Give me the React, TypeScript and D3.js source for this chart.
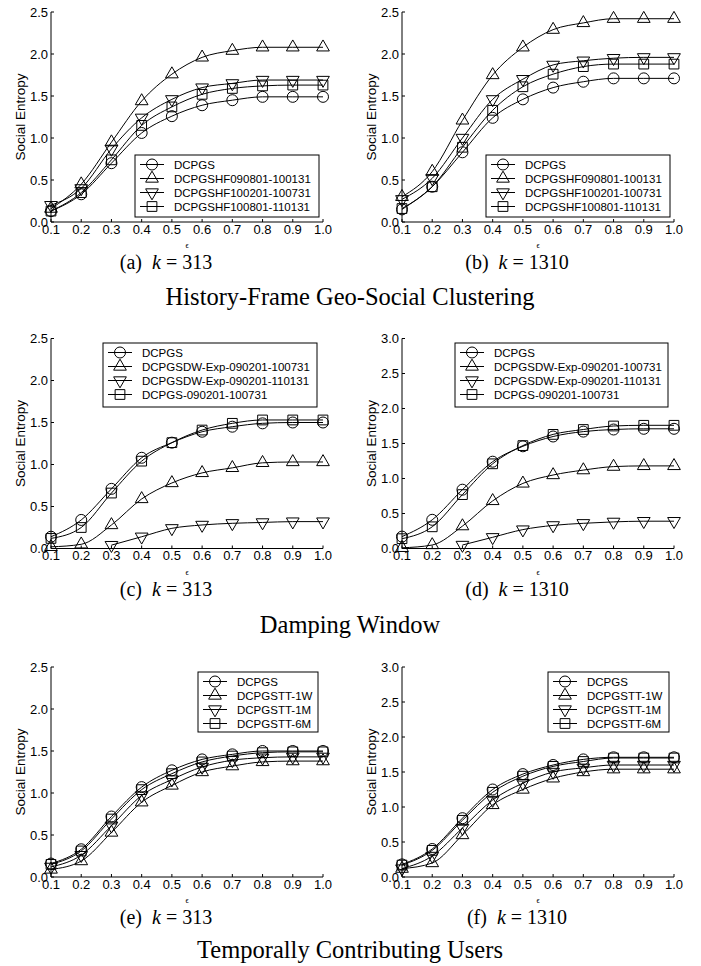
import * as d3 from 'd3';

const eps = [0.1, 0.2, 0.3, 0.4, 0.5, 0.6, 0.7, 0.8, 0.9, 1.0];
const yTicks25 = [0, 0.5, 1.0, 1.5, 2.0, 2.5];
const yTicks30 = [0, 0.5, 1.0, 1.5, 2.0, 2.5, 3.0];

const hfNames = ['DCPGS', 'DCPGSHF090801-100131', 'DCPGSHF100201-100731', 'DCPGSHF100801-110131'];
const dwNames = ['DCPGS', 'DCPGSDW-Exp-090201-100731', 'DCPGSDW-Exp-090201-110131', 'DCPGS-090201-100731'];
const ttNames = ['DCPGS', 'DCPGSTT-1W', 'DCPGSTT-1M', 'DCPGSTT-6M'];

// (a) history frame, k = 313
const aDCPGS = [0.13, 0.33, 0.70, 1.06, 1.26, 1.39, 1.45, 1.49, 1.49, 1.49];
const aHF0908 = [0.16, 0.45, 0.95, 1.44, 1.76, 1.96, 2.04, 2.08, 2.08, 2.08];
const aHF1002 = [0.20, 0.40, 0.87, 1.24, 1.46, 1.60, 1.65, 1.69, 1.69, 1.69];
const aHF1008 = [0.13, 0.35, 0.74, 1.15, 1.37, 1.52, 1.59, 1.62, 1.63, 1.63];

// (b) history frame, k = 1310
const bDCPGS = [0.15, 0.42, 0.83, 1.24, 1.46, 1.60, 1.67, 1.71, 1.71, 1.71];
const bHF0908 = [0.30, 0.60, 1.21, 1.75, 2.08, 2.29, 2.37, 2.42, 2.42, 2.42];
const bHF1002 = [0.27, 0.52, 1.00, 1.46, 1.70, 1.87, 1.92, 1.95, 1.96, 1.96];
const bHF1008 = [0.16, 0.42, 0.89, 1.33, 1.61, 1.76, 1.85, 1.88, 1.88, 1.88];

// (c) damping window, k = 313
const cDCPGS = [0.14, 0.34, 0.71, 1.08, 1.26, 1.39, 1.45, 1.49, 1.50, 1.50];
const cDW1007 = [0.02, 0.05, 0.28, 0.59, 0.78, 0.90, 0.96, 1.02, 1.03, 1.03];
const cDW1101 = [null, null, 0.04, 0.14, 0.24, 0.28, 0.30, 0.31, 0.32, 0.32];
const cGS1007 = [0.12, 0.25, 0.66, 1.04, 1.26, 1.41, 1.49, 1.53, 1.53, 1.53];

// (d) damping window, k = 1310
const dDCPGS = [0.17, 0.41, 0.84, 1.24, 1.46, 1.60, 1.67, 1.70, 1.71, 1.71];
const dDW1007 = [0.01, 0.05, 0.32, 0.68, 0.93, 1.05, 1.12, 1.17, 1.18, 1.18];
const dDW1101 = [null, null, 0.05, 0.16, 0.27, 0.33, 0.36, 0.38, 0.39, 0.39];
const dGS1007 = [0.14, 0.31, 0.77, 1.21, 1.47, 1.63, 1.70, 1.75, 1.76, 1.76];

// (e) temporal contributors, k = 313
const eDCPGS = [0.16, 0.33, 0.72, 1.07, 1.27, 1.40, 1.46, 1.50, 1.50, 1.50];
const eTT1W = [0.09, 0.19, 0.53, 0.89, 1.09, 1.25, 1.32, 1.37, 1.38, 1.38];
const eTT1M = [0.12, 0.26, 0.61, 0.97, 1.16, 1.31, 1.39, 1.42, 1.43, 1.43];
const eTT6M = [0.15, 0.31, 0.69, 1.04, 1.23, 1.37, 1.44, 1.48, 1.49, 1.49];

// (f) temporal contributors, k = 1310
const fDCPGS = [0.18, 0.40, 0.84, 1.25, 1.47, 1.60, 1.68, 1.71, 1.71, 1.71];
const fTT1W = [0.12, 0.20, 0.60, 1.03, 1.25, 1.41, 1.50, 1.54, 1.54, 1.54];
const fTT1M = [0.12, 0.30, 0.70, 1.10, 1.34, 1.50, 1.56, 1.60, 1.60, 1.60];
const fTT6M = [0.17, 0.38, 0.81, 1.21, 1.44, 1.58, 1.65, 1.70, 1.70, 1.70];

const sections = [
  { title: 'History-Frame Geo-Social Clustering', y: 305 },
  { title: 'Damping Window', y: 633 },
  { title: 'Temporally Contributing Users', y: 958 },
];

const panels = [
  { tag: '(a)', k: '313', col: 0, row: 0, ticks: yTicks25, names: hfNames, series: [aDCPGS, aHF0908, aHF1002, aHF1008], legend: { x: 135, y: 155, w: 184, h: 62 } },
  { tag: '(b)', k: '1310', col: 1, row: 0, ticks: yTicks25, names: hfNames, series: [bDCPGS, bHF0908, bHF1002, bHF1008], legend: { x: 486, y: 155, w: 184, h: 62 } },
  { tag: '(c)', k: '313', col: 0, row: 1, ticks: yTicks25, names: dwNames, series: [cDCPGS, cDW1007, cDW1101, cGS1007], legend: { x: 103, y: 343, w: 214, h: 64 } },
  { tag: '(d)', k: '1310', col: 1, row: 1, ticks: yTicks30, names: dwNames, series: [dDCPGS, dDW1007, dDW1101, dGS1007], legend: { x: 455, y: 343, w: 213, h: 64 } },
  { tag: '(e)', k: '313', col: 0, row: 2, ticks: yTicks25, names: ttNames, series: [eDCPGS, eTT1W, eTT1M, eTT6M], legend: { x: 198, y: 672, w: 120, h: 60 } },
  { tag: '(f)', k: '1310', col: 1, row: 2, ticks: yTicks30, names: ttNames, series: [fDCPGS, fTT1W, fTT1M, fTT6M], legend: { x: 548, y: 672, w: 121, h: 60 } },
];

const colLeft = [51, 402];
const rowBottom = [222, 548.5, 877];
const plotW = 272;
const plotH = 210;

const sans = '"Liberation Sans", Arial, sans-serif';
const serif = '"Liberation Serif", "Times New Roman", serif';

const markerPaths = [
  d3.symbol().type(d3.symbolCircle).size(95)(),
  d3.symbol().type(d3.symbolTriangle).size(70)(),
  d3.symbol().type(d3.symbolTriangle).size(70)(),
  d3.symbol().type(d3.symbolSquare).size(95)(),
];
const markerRot = [0, 0, 180, 0];

const Marker = ({ i, x, y }: { i: number; x: number; y: number }) => (
  <path
    d={markerPaths[i] as string}
    transform={`translate(${x},${y}) rotate(${markerRot[i]})`}
    fill="none"
    stroke="#000"
    strokeWidth={1}
  />
);

const Panel = ({ p }: { p: (typeof panels)[number] }) => {
  const left = colLeft[p.col];
  const bottom = rowBottom[p.row];
  const yMax = p.ticks[p.ticks.length - 1];
  const x = d3.scaleLinear().domain([0.1, 1.0]).range([left, left + plotW]);
  const y = d3.scaleLinear().domain([0, yMax]).range([bottom, bottom - plotH]);
  const line = d3
    .line<number | null>()
    .defined((d) => d != null)
    .x((_, i) => x(eps[i]))
    .y((d) => y(d as number))
    .curve(d3.curveMonotoneX);
  const fmt = d3.format('.1f');
  const lg = p.legend;

  return (
    <g>
      {/* axes */}
      <line x1={left} x2={left} y1={bottom} y2={y(yMax)} stroke="#000" />
      <line x1={left} x2={left + plotW} y1={bottom} y2={bottom} stroke="#000" />
      {p.ticks.map((t) => (
        <g key={'y' + t}>
          <line x1={left} x2={left + 3} y1={y(t)} y2={y(t)} stroke="#000" />
          <text x={left - 3} y={y(t)} dy="0.35em" textAnchor="end" fontFamily={sans} fontSize={13}>
            {fmt(t)}
          </text>
        </g>
      ))}
      {eps.map((t) => (
        <g key={'x' + t}>
          <line x1={x(t)} x2={x(t)} y1={bottom} y2={bottom - 3} stroke="#000" />
          <text x={x(t)} y={bottom + 11.5} textAnchor="middle" fontFamily={sans} fontSize={13}>
            {fmt(t)}
          </text>
        </g>
      ))}
      <text
        transform={`translate(${left - 26},${bottom - plotH / 2}) rotate(-90)`}
        textAnchor="middle"
        fontFamily={sans}
        fontSize={13.5}
      >
        Social Entropy
      </text>
      <text x={left + plotW / 2} y={bottom + 26} textAnchor="middle" fontFamily={serif} fontSize={8}>
        ϵ
      </text>

      {/* series */}
      {p.series.map((s, i) => (
        <g key={'s' + i}>
          <path d={line(s) as string} fill="none" stroke="#000" strokeWidth={1} />
          {s.map((v, j) => (v == null ? null : <Marker key={j} i={i} x={x(eps[j])} y={y(v)} />))}
        </g>
      ))}

      {/* legend */}
      <rect x={lg.x} y={lg.y} width={lg.w} height={lg.h} fill="#fff" stroke="#000" />
      {p.names.map((n, i) => {
        const ry = lg.y + 9.5 + i * 14;
        return (
          <g key={'l' + i}>
            <line x1={lg.x + 5} x2={lg.x + 29} y1={ry} y2={ry} stroke="#000" />
            <Marker i={i} x={lg.x + 17} y={ry} />
            <text x={lg.x + 39} y={ry} dy="0.35em" fontFamily={sans} fontSize={11.5}>
              {n}
            </text>
          </g>
        );
      })}

      {/* caption */}
      <text x={left + 115} y={bottom + 47} textAnchor="middle" fontFamily={serif} fontSize={20}>
        {p.tag + '\u00a0\u00a0'}
        <tspan fontStyle="italic">k</tspan>
        {'\u00a0=\u00a0' + p.k}
      </text>
    </g>
  );
};

export default function App() {
  return (
    <svg
      width={701}
      height={966}
      style={{ position: 'absolute', left: 0, top: 0, background: '#fff' }}
    >
      <rect width={701} height={966} fill="#fff" />
      {panels.map((p) => (
        <Panel key={p.tag} p={p} />
      ))}
      {sections.map((s) => (
        <text key={s.title} x={350} y={s.y} textAnchor="middle" fontFamily={serif} fontSize={24.5}>
          {s.title}
        </text>
      ))}
    </svg>
  );
}
